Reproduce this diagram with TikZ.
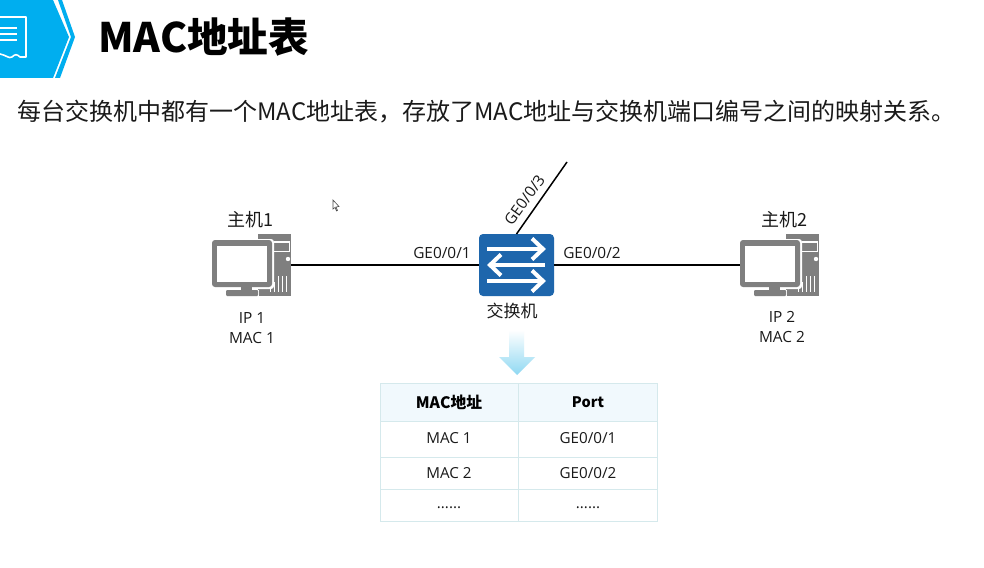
\documentclass[tikz,border=0pt]{standalone}
\usepackage{fontspec}
\setmainfont{Noto Sans CJK SC}
\newfontfamily\lat{Open Sans}
\usetikzlibrary{calc}
\definecolor{hostgray}{HTML}{7F7F7F}
\definecolor{swblue}{HTML}{1E66AC}
\definecolor{banner}{HTML}{00AEEF}
\definecolor{tabline}{HTML}{D5E9EC}
\definecolor{tabhead}{HTML}{F1F9FD}
\definecolor{txt}{HTML}{1A1A1A}
\definecolor{arrowblue}{HTML}{8FD8F2}
\tikzset{
  x=1pt,y=-1pt,
  hostbox/.style={minimum width=79pt,minimum height=62pt,inner sep=0pt,outer sep=0pt},
  lab/.style={inner sep=0pt,text=txt,font=\fontsize{15.4}{15.4}\selectfont\lat},
  cjklab/.style={inner sep=0pt,text=txt,font=\fontsize{18}{18}\selectfont},
  tabtxt/.style={inner sep=0pt,text=txt,font=\fontsize{15.2}{15.2}\selectfont\lat},
  tabbold/.style={inner sep=0pt,text=black,font=\fontsize{15.8}{15.8}\selectfont\bfseries},
  link/.style={draw=black,line width=1.5pt},
  tabrule/.style={draw=tabline,line width=1pt},
  swarrow/.style={draw=white,line width=4pt},
  host/.pic={
    \fill[hostgray] (46,0) -- (79,0) -- (79,62) -- (46,62) -- cycle;
    \fill[white] (62,7) rectangle (78,8.5);
    \fill[white] (61,8.5) rectangle (62.2,18);
    \fill[white] (76.8,8.5) rectangle (78,18);
    \fill[white] (61,17) rectangle (78,18.2);
    \fill[white] (76,25) circle (2.2);
    \foreach \tx/\ty in {66/42,70/42,74/42,62/48,58/52}
      \fill[white] (\tx,\ty) rectangle ++(1.2,58-\ty);
    \fill[white,rounded corners=3pt] (-1,5) rectangle (62,55);
    \fill[hostgray,rounded corners=3pt] (0,6) rectangle (60,53);
    \fill[white] (5,12) rectangle (55,48);
    \fill[hostgray] (29,53) rectangle (40,56);
    \fill[white] (13,55.5) rectangle (47,62);
    \fill[hostgray,rounded corners=1pt] (14,56) rectangle (46,62);
  }
}
\begin{document}
\begin{tikzpicture}
\useasboundingbox (0,0) rectangle (984,567);
\fill[white] (0,0) rectangle (984,567);
% banner
\fill[banner] (0,0) -- (53,0) -- (69,37) -- (53,78) -- (0,78) -- cycle;
\fill[banner] (58,0) -- (62,0) -- (75,37) -- (60,78) -- (55,78) -- (71,37) -- cycle;
\draw[white,line width=1.6pt,line join=round] (0,17) -- (26,17) -- (26,57) -- (20,57)
  .. controls (17,54) and (15,54) .. (12,57) .. controls (9,59) and (6,55) .. (0,54);
\foreach \ly in {28,34,40} \draw[white,line width=1.6pt] (0,\ly) -- (17,\ly);
% title and sentence
\node[inner sep=0pt,anchor=west,text=black,font=\fontsize{40.6}{41}\selectfont\bfseries] (title) at (98,37) {MAC地址表};
\node[inner sep=0pt,anchor=west,text=txt,font=\fontsize{24}{24}\selectfont] (intro) at (17,112) {每台交换机中都有一个MAC地址表，存放了MAC地址与交换机端口编号之间的映射关系。};
% hosts
\node[hostbox] (h1) at (251.5,265) {};
\node[hostbox] (h2) at (779.5,265) {};
\pic at (h1.north west) {host};
\pic at (h2.north west) {host};
\node[cjklab] (h1t) at (250,220) {主机1};
\node[cjklab] (h2t) at (784,220) {主机2};
\node[lab] (ip1) at (252,318) {IP 1};
\node[lab] (mac1) at (252,338) {MAC 1};
\node[lab] (ip2) at (782,317) {IP 2};
\node[lab] (mac2) at (782,337) {MAC 2};
% switch
\node[fill=swblue,rounded corners=4pt,minimum width=75pt,minimum height=62pt,inner sep=0pt,outer sep=0pt] (sw) at (516.5,265) {};
\draw[swarrow] (487,249) -- (541,249);
\draw[swarrow] (532,238.5) -- (543,249) -- (532,259.5);
\draw[swarrow] (490,265) -- (545,265);
\draw[swarrow] (501,254.5) -- (490,265) -- (501,275.5);
\draw[swarrow] (487,281) -- (541,281);
\draw[swarrow] (532,270.5) -- (543,281) -- (532,291.5);
\node[cjklab,font=\fontsize{17}{17}\selectfont] (swt) at (512,311) {交换机};
% links
\coordinate (free) at (567,162);
\draw[link] (h1.east) -- (sw.west);
\draw[link] (sw.east) -- (h2.west);
\draw[link] (sw.north) -- (free);
\node[lab] (p1) at (442,253) {GE0/0/1};
\node[lab] (p2) at (592,253) {GE0/0/2};
\node[lab,rotate=54] (p3) at (524.5,200) {GE0/0/3};
% down arrow
\shade[top color=white,bottom color=arrowblue] (509,330) -- (524,330) -- (524,357) -- (535,357) -- (517,375) -- (499,357) -- (509,357) -- cycle;
% table
\fill[tabhead] (380,383) rectangle (657,421);
\draw[tabrule] (380,383) rectangle (657,521);
\draw[tabrule] (380,421) -- (657,421);
\draw[tabrule] (380,457) -- (657,457);
\draw[tabrule] (380,489) -- (657,489);
\draw[tabrule] (518,383) -- (518,521);
\node[tabbold] (c11) at (449,402) {MAC地址};
\node[tabbold,font=\fontsize{14.5}{14.5}\selectfont\bfseries] (c12) at (588,402) {Port};
\node[tabtxt] (c21) at (449,438) {MAC 1};
\node[tabtxt] (c22) at (588,438) {GE0/0/1};
\node[tabtxt] (c31) at (449,473) {MAC 2};
\node[tabtxt] (c32) at (588,473) {GE0/0/2};
\node[tabtxt] (c41) at (449,508) {......};
\node[tabtxt] (c42) at (588,508) {......};
% mouse pointer
\draw[fill=white,draw=black!70,line width=.6pt] (333,200) -- (333,209) -- (335,207.5) -- (336.5,211) -- (337.5,210.5) -- (336,207) -- (339,206.5) -- cycle;
\end{tikzpicture}
\end{document}
